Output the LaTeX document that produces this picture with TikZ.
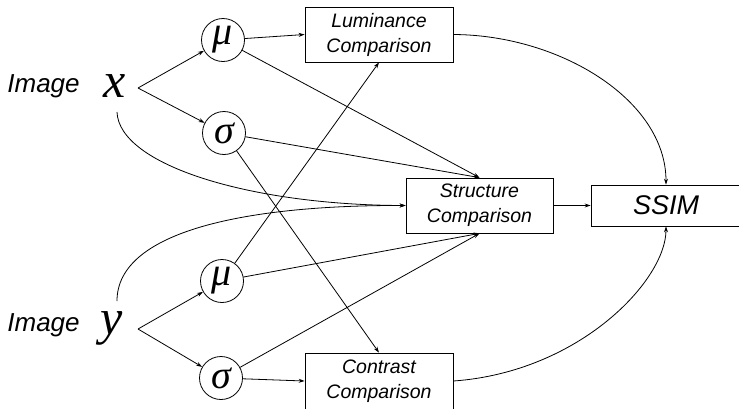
\documentclass[tikz,border=0pt]{standalone}
\usepackage{fontspec}
\setmainfont{Liberation Sans}
\newfontfamily\serifface{Liberation Serif}
\usetikzlibrary{arrows.meta}
\begin{document}
\begin{tikzpicture}[x=1pt,y=-1pt,line width=0.8pt,
  >={Stealth[length=6pt,width=4pt]},
  box/.style={draw,inner sep=0pt,align=center,font=\fontsize{19.5}{25}\selectfont\itshape},
  circ/.style={draw,circle,minimum size=43pt,inner sep=0pt,font=\serifface\itshape\fontsize{40}{40}\selectfont},
  lbl/.style={inner sep=0pt,anchor=base west,font=\fontsize{26}{26}\selectfont\itshape},
  var/.style={inner sep=0pt,anchor=base,font=\serifface\itshape\fontsize{50}{50}\selectfont}]
\useasboundingbox (0,0) rectangle (739,408);
% boxes
\node[box,minimum width=148pt,minimum height=55pt] (lum) at (379,34.5) {Luminance\\Comparison};
\node[box,minimum width=147pt,minimum height=55pt] (stc) at (479.5,205.5) {Structure\\Comparison};
\node[box,minimum width=150pt,minimum height=41pt,font=\fontsize{27}{27}\selectfont\itshape] (ssim) at (666,205.5) {SSIM};
\node[box,minimum width=148pt,minimum height=56pt] (con) at (379,381) {Contrast\\Comparison};
% circles
\node[circ] (mu1) at (223,40) {μ};
\node[circ] (sig1) at (224,133) {σ};
\node[circ] (mu2) at (222,281) {μ};
\node[circ] (sig2) at (221,378) {σ};
% labels
\node[lbl] (imx) at (7,92) {Image};
\node[lbl] (imy) at (7,331) {Image};
\node[var] (vx) at (115,97) {x};
\node[var] (vy) at (112,334) {y};
\coordinate (bx) at (138,88);
\coordinate (by) at (138,329);
\coordinate (cx) at (117,112);
\coordinate (cy) at (117,301);
% connectors
\draw[->] (bx) -- (mu1);
\draw[->] (bx) -- (sig1);
\draw[->] (by) -- (mu2);
\draw[->] (by) -- (sig2);
\draw[->] (mu1) -- (lum.west);
\draw[->] (mu1) -- (stc.north);
\draw[->] (sig1) -- (stc.north);
\draw[->] (sig1) -- (con.north);
\draw[->] (mu2) -- (lum.south);
\draw[->] (mu2) -- (stc.south);
\draw[->] (sig2) -- (stc.south);
\draw[->] (sig2) -- (con.west);
\draw[->] (cx) .. controls (119,165) and (250,205) .. (stc.west);
\draw[->] (cy) .. controls (117,230) and (250,205) .. (stc.west);
\draw[->] (stc) -- (ssim);
\draw[->] (lum.east) .. controls (560,35) and (666,100) .. (ssim.north);
\draw[->] (con.east) .. controls (580,372) and (666,280) .. (ssim.south);
\end{tikzpicture}
\end{document}
